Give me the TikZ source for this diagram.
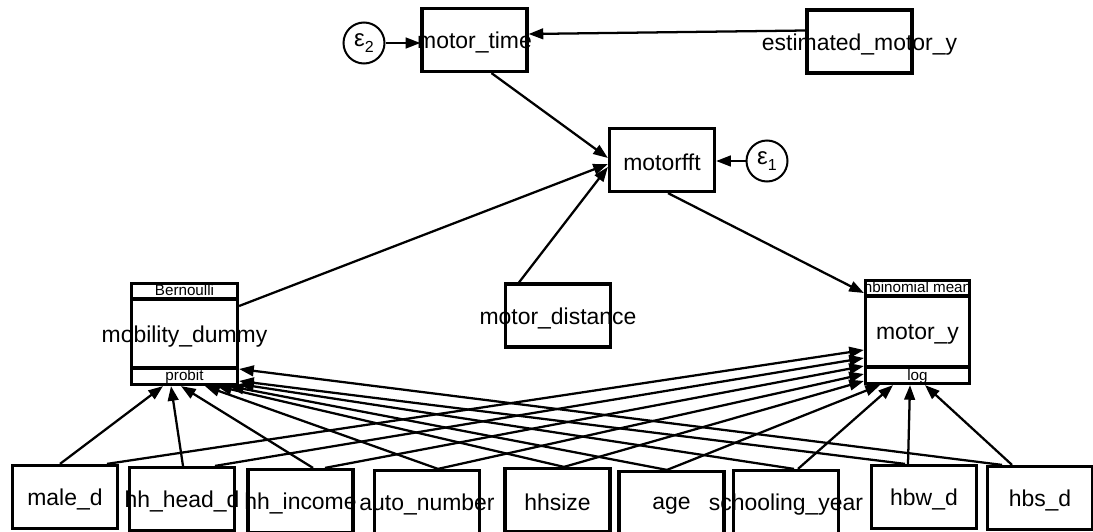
\documentclass[tikz,border=0pt]{standalone}
\usepackage{fontspec}
\setmainfont{Liberation Sans}
\usetikzlibrary{arrows.meta,calc}
\begin{document}
\begin{tikzpicture}[x=0.75pt,y=-0.75pt,
  txt/.style={inner sep=0pt,yshift=-2pt,font=\fontsize{17.2}{20}\selectfont},
  box/.style={draw,line width=2.4pt,fill=white,minimum width=78.75pt,minimum height=47.25pt,inner sep=0pt},
  gbox/.style={draw,line width=2.4pt,fill=white,inner sep=0pt},
  err/.style={draw,circle,line width=1.5pt,fill=white,minimum size=30.75pt,inner sep=0pt,font=\fontsize{18}{20}\selectfont},
  conn/.style={line width=1.7pt,-{Triangle[length=11pt,width=8pt]}},
  strip/.style={inner sep=0pt,font=\fontsize{11.4}{13}\selectfont},
  sep/.style={line width=3pt}
]
\useasboundingbox (0,0) rectangle (1093,532);
\clip (0,0) rectangle (1093,532);

% top nodes
\node[box,label={[txt]center:motor\_time}] (mt) at (474.5,40) {};
\node[box,label={[txt]center:estimated\_motor\_y}] (est) at (859.5,41.5) {};
\node[box,label={[txt]center:motorfft}] (fft) at (662,160) {};
\node[box,label={[txt]center:motor\_distance}] (dist) at (558,315.5) {};
\node[err] (eps2) at (364,43) {ε\raisebox{-4pt}{\fontsize{12}{13}\selectfont 2}};
\node[err] (eps1) at (767,161) {ε\raisebox{-4pt}{\fontsize{12}{13}\selectfont 1}};

% generalized response nodes
\node[gbox,minimum width=79.5pt,minimum height=75.75pt,label={[txt]center:mobility\_dummy}] (mob) at (184.5,334) {};
\draw[sep] ($(mob.north west)+(1.5,17)$) -- ($(mob.north east)+(-1.5,17)$);
\draw[sep] ($(mob.south west)+(1.5,-18)$) -- ($(mob.south east)+(-1.5,-18)$);
\node[strip] (mobfam) at (184.5,290) {Bernoulli};
\node[strip] (moblink) at (184.5,377) {probit};

\node[gbox,minimum width=78pt,minimum height=77.25pt,label={[txt]center:motor\_y}] (my) at (917.5,332) {};
\draw[sep] ($(my.north west)+(1.5,17)$) -- ($(my.north east)+(-1.5,17)$);
\draw[sep] ($(my.south west)+(1.5,-18)$) -- ($(my.south east)+(-1.5,-18)$);
\begin{scope}
  \clip ($(my.north west)+(2.5,2)$) rectangle ($(my.north east)+(-2.5,16)$);
  \node[strip] (myfam) at (917.5,287.5) {nbinomial mean};
\end{scope}
\node[strip] (mylink) at (917.5,376.5) {log};

% bottom nodes
\node[box,label={[txt]center:male\_d}] (male) at (65,497) {};
\node[box,label={[txt]center:hh\_head\_d}] (hhhead) at (182,499) {};
\node[box,label={[txt]center:hh\_income}] (hhinc) at (300.5,501) {};
\node[box,label={[txt]center:auto\_number}] (auto) at (427,502) {};
\node[box,label={[txt]center:hhsize}] (hhsize) at (557.5,500) {};
\node[box,label={[txt]center:age}] (age) at (671.5,503) {};
\node[box,label={[txt]center:schooling\_year}] (school) at (786,502) {};
\node[box,label={[txt]center:hbw\_d}] (hbw) at (924,497) {};
\node[box,label={[txt]center:hbs\_d}] (hbs) at (1040,498) {};

% top connectors
\draw[conn] (eps2) -- (eps2 -| mt.west);
\draw[conn] ($(est.west)+(0,-11)$) -- ($(mt.east)+(0,-6)$);
\draw[conn] ($(mt.south)+(17,0)$) -- ($(fft.west)+(0,-2)$);
\draw[conn] ($(mob.east)+(0,-28)$) -- ($(fft.west)+(0,4)$);
\draw[conn] ($(dist.north)+(-39,0)$) -- ($(fft.west)+(0,7)$);
\draw[conn] (eps1) -- (eps1 -| fft.east);
\draw[conn] ($(fft.south)+(6,0)$) -- ($(my.west)+(0,-39)$);

% into mobility_dummy
\draw[conn] ($(male.north)+(-5,0)$) -- ($(mob.south)+(-21.5,0)$);
\draw[conn] ($(hhhead.north)+(1,0)$) -- ($(mob.south)+(-13.5,0)$);
\draw[conn] ($(hhinc.north)+(12.5,0)$) -- ($(mob.south)+(-3.5,0)$);
\draw[conn] ($(auto.north)+(11,0)$) -- ($(mob.south)+(20.5,0)$);
\draw[conn] ($(hhsize.north)+(6.5,0)$) -- ($(mob.south)+(32.5,0)$);
\draw[conn] ($(age.north)+(-4.5,0)$) -- ($(mob.south)+(44.5,0)$);
\draw[conn] ($(school.north)+(8,0)$) -- ($(mob.south east)+(0,-2)$);
\draw[conn] ($(hbw.north)+(-19,0)$) -- ($(mob.east)+(0,47)$);
\draw[conn] ($(hbs.north)+(-38,0)$) -- ($(mob.east)+(0,35)$);

% into motor_y
\draw[conn] ($(male.north)+(42,0)$) -- ($(my.west)+(0,18)$);
\draw[conn] ($(hhhead.north)+(33,0)$) -- ($(my.west)+(0,26)$);
\draw[conn] ($(hhinc.north)+(24.5,0)$) -- ($(my.west)+(0,34)$);
\draw[conn] ($(auto.north)+(11,0)$) -- ($(my.west)+(0,42)$);
\draw[conn] ($(hhsize.north)+(6.5,0)$) -- ($(my.west)+(0,49)$);
\draw[conn] ($(age.north)+(-4.5,0)$) -- ($(my.south)+(-37.5,0)$);
\draw[conn] ($(school.north)+(12,0)$) -- ($(my.south)+(-24.5,0)$);
\draw[conn] ($(hbw.north)+(-16,0)$) -- ($(my.south)+(-7.5,0)$);
\draw[conn] ($(hbs.north)+(-28,0)$) -- ($(my.south)+(7.5,0)$);
\end{tikzpicture}
\end{document}
